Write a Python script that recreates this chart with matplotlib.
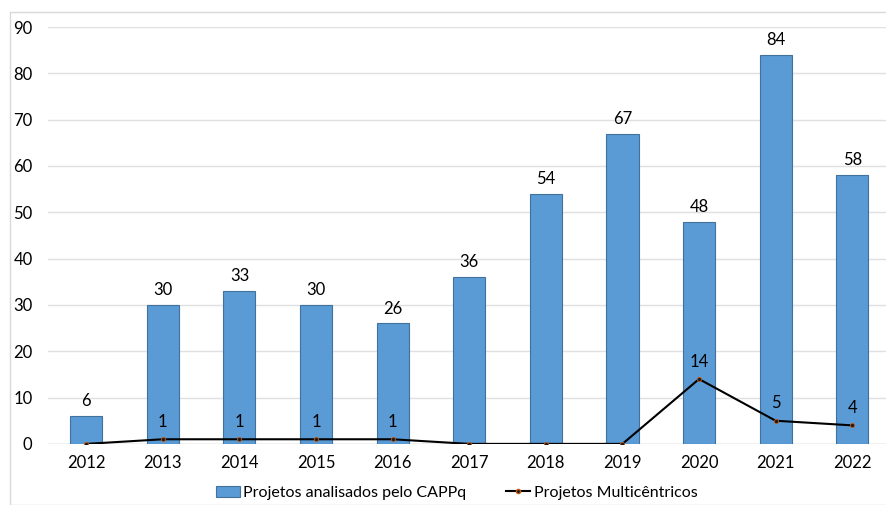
import numpy as np
import matplotlib.pyplot as plt
from matplotlib.patches import Rectangle
from matplotlib.lines import Line2D

plt.rcParams['font.family'] = ['Lato', 'DejaVu Sans']

anos = ['2012', '2013', '2014', '2015', '2016', '2017', '2018', '2019', '2020', '2021', '2022']
analisados = [6, 30, 33, 30, 26, 36, 54, 67, 48, 84, 58]
multicentricos = [0, 1, 1, 1, 1, 0, 0, 0, 14, 5, 4]

fig = plt.figure(figsize=(8.87, 5.05), dpi=100)
ax = fig.add_axes([0.054, 0.121, 0.95, 0.8255])

# moldura clara em volta do grafico
fig.patches.append(Rectangle((10 / 887, 0), 1.0, 1 - 12 / 505, transform=fig.transFigure,
                             fill=False, edgecolor='#d9d9d9', linewidth=1.0))

x = np.arange(len(anos))
ax.bar(x, analisados, width=0.42, color='#5a9bd5', edgecolor='#41719c',
       linewidth=0.8, zorder=2)
for xi, v in zip(x, analisados):
    ax.text(xi, v + 1.5, str(v), ha='center', va='bottom', fontsize=12, color='#000000')

ax.plot(x, multicentricos, color='black', linewidth=1.5, marker='o', markersize=3,
        markerfacecolor='#1a1a1a', markeredgecolor='#c55a11', markeredgewidth=0.6, zorder=3)
for xi, v in zip(x, multicentricos):
    if v > 0:
        ax.text(xi, v + 2, str(v), ha='center', va='bottom', fontsize=12, color='#000000')

ax.set_xlim(-0.5, 10.5)
ax.set_ylim(0, 90)
ax.set_yticks(range(0, 91, 10))
ax.set_xticks(x)
ax.set_xticklabels(anos)
ax.tick_params(axis='both', length=0, labelsize=12, colors='#000000')
ax.tick_params(axis='y', pad=11)
ax.tick_params(axis='x', pad=8)
ax.grid(axis='y', color='#e0e0e0', linewidth=1.0, zorder=0)
ax.set_axisbelow(True)
for s in ax.spines.values():
    s.set_visible(False)
ax.axhline(0, color='#d9d9d9', linewidth=1.0, zorder=1)

handles = [Rectangle((0, 0), 1, 1, facecolor='#5a9bd5', edgecolor='#41719c', linewidth=0.8),
           Line2D([0], [0], color='black', linewidth=1.5, marker='o', markersize=3,
                  markerfacecolor='#1a1a1a', markeredgecolor='#c55a11')]
fig.legend(handles, ['Projetos analisados pelo CAPPq', 'Projetos Multicêntricos'],
           loc='center', bbox_to_anchor=(0.515, 0.024), ncol=2, frameon=False,
           fontsize=11.5, handlelength=1.5, handletextpad=0.2, columnspacing=2.5)

fig.savefig('out.png', dpi=100)
